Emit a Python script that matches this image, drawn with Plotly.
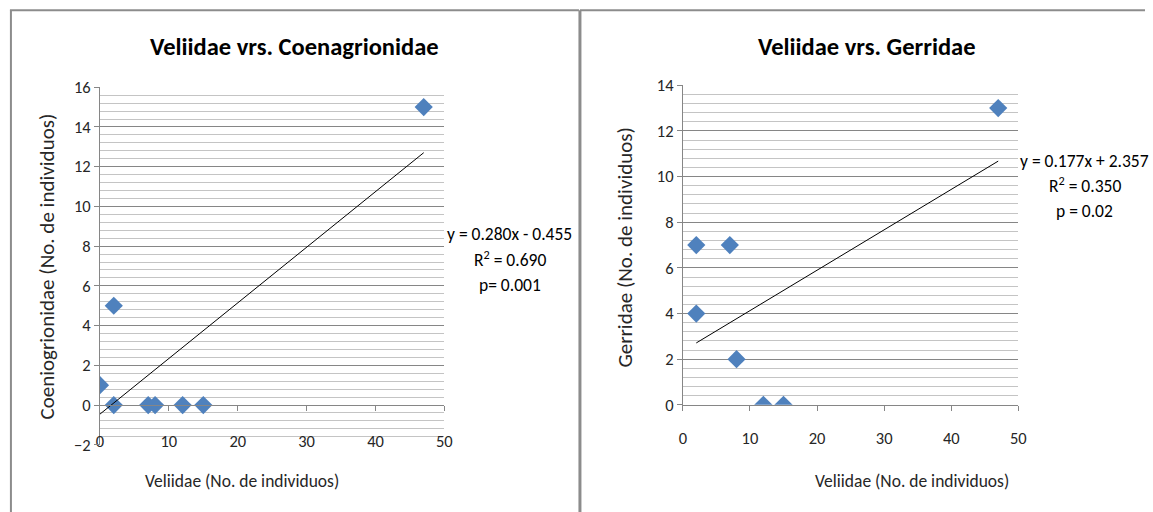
import plotly.graph_objects as go

# measured vertical mapping of the viewer: shown_y = K * (page_y + T)
K, T = 0.963, 10.0
W, H = 1153, 522

# ---- data ----
left_x = [0, 2, 2, 7, 8, 12, 15, 47]
left_y = [1, 5, 0, 0, 0, 0, 0, 15]
left_slope, left_icpt = 0.280, -0.455
left_fit_x = [0, 47]

right_x = [2, 7, 2, 8, 12, 15, 47]
right_y = [7, 7, 4, 2, 0, 0, 13]
right_slope, right_icpt = 0.177, 2.357
right_fit_x = [2, 47]

x_ticks = [0, 10, 20, 30, 40, 50]
left_y_ticks = [-2, 0, 2, 4, 6, 8, 10, 12, 14, 16]
right_y_ticks = [0, 2, 4, 6, 8, 10, 12, 14]

left_title = "Veliidae vrs. Coenagrionidae"
right_title = "Veliidae vrs. Gerridae"
x_title = "Veliidae (No. de individuos)"
left_y_title = "Coeniogrionidae (No. de individuos)"
right_y_title = "Gerridae (No. de individuos)"
left_eq = ["y = 0.280x - 0.455", "R<sup>2</sup> = 0.690", "p= 0.001"]
right_eq = ["y = 0.177x + 2.357", "R<sup>2</sup> = 0.350", "p = 0.02"]

FONT = "Carlito, Lato, 'Open Sans', sans-serif"
BLUE = "#4F81BD"
MAJ = "#868686"
MIN = "#c4c4c4"
BORDER = "#8c8c8c"


def px(x):
    return x / W


def py(y):
    return 1 - (y / K - T) / H


fig = go.Figure()

# left scatter + trendline
fig.add_trace(go.Scatter(x=left_x, y=left_y, mode="markers", xaxis="x", yaxis="y",
                         marker=dict(symbol="diamond", size=14, color=BLUE),
                         showlegend=False, hoverinfo="skip"))
fig.add_trace(go.Scatter(x=left_fit_x, y=[left_slope * v + left_icpt for v in left_fit_x],
                         mode="lines", xaxis="x3", yaxis="y",
                         line=dict(color="#000000", width=1), showlegend=False,
                         hoverinfo="skip"))
# right scatter + trendline
fig.add_trace(go.Scatter(x=right_x, y=right_y, mode="markers", xaxis="x2", yaxis="y2",
                         marker=dict(symbol="diamond", size=14, color=BLUE),
                         showlegend=False, hoverinfo="skip"))
fig.add_trace(go.Scatter(x=right_fit_x, y=[right_slope * v + right_icpt for v in right_fit_x],
                         mode="lines", xaxis="x2", yaxis="y2",
                         line=dict(color="#000000", width=1), showlegend=False,
                         hoverinfo="skip"))

tickfont = dict(family=FONT, size=16.5, color="#262626")

L_X0, L_X1, L_YT, L_YB, L_Y0 = 97, 445, 87, 445, 405
R_X0, R_X1, R_YT, R_YB = 686, 1025, 85, 405

yax_common = dict(showline=True, linecolor=MAJ, linewidth=1, ticks="outside",
                  ticklen=5, tickcolor=MAJ, showgrid=True, gridcolor=MAJ,
                  gridwidth=1, zeroline=False, tickfont=tickfont,
                  minor=dict(dtick=0.4, tick0=0, showgrid=True, gridcolor=MIN,
                             gridwidth=1, ticks=""))

fig.update_layout(
    width=W, height=H, margin=dict(l=0, r=0, t=0, b=0),
    paper_bgcolor="white", plot_bgcolor="white",
    font=dict(family=FONT, color="#000000"),
    xaxis=dict(domain=[px(L_X0), px(L_X1)], range=[0, 50], anchor="y",
               tickvals=x_ticks, showline=False, ticks="", showgrid=False,
               zeroline=False, tickfont=tickfont, ticklabelstandoff=-15),
    xaxis3=dict(overlaying="x", anchor="free", position=py(L_Y0), range=[0, 50],
                tickvals=x_ticks, showline=True, linecolor=MAJ, ticks="outside",
                ticklen=5, tickcolor=MAJ, showticklabels=False, showgrid=False,
                zeroline=False),
    yaxis=dict(domain=[py(L_YB), py(L_YT)], range=[-2, 16], anchor="x",
               tickvals=left_y_ticks, **yax_common),
    xaxis2=dict(domain=[px(R_X0), px(R_X1)], range=[0, 50], anchor="y2",
                tickvals=x_ticks, showline=True, linecolor=MAJ, ticks="outside",
                ticklen=5, tickcolor=MAJ, showgrid=False, zeroline=False,
                tickfont=tickfont, ticklabelstandoff=13),
    yaxis2=dict(domain=[py(R_YB), py(R_YT)], range=[0, 14], anchor="x2",
                tickvals=right_y_ticks, **yax_common),
)


def note(text, x, y, size, color="#000000", angle=0):
    return dict(text=text, x=px(x), y=py(y), xref="paper", yref="paper",
                xanchor="center", yanchor="middle", showarrow=False,
                textangle=angle, font=dict(family=FONT, size=size, color=color))


ann = [
    note("<b>" + left_title + "</b>", 294, 47, 24.5),
    note("<b>" + right_title + "</b>", 872, 47, 24.5),
    note(x_title, 241, 481, 17.5, "#262626"),
    note(x_title, 918, 481, 17.5, "#262626"),
    note(left_y_title, 43, 267, 21, "#262626", -90),
    note(right_y_title, 628, 247, 21, "#262626", -90),
]
for txt, yy in zip(left_eq, [234, 259, 285]):
    ann.append(note(txt, 511, yy, 17.5))
for txt, yy in zip(right_eq, [161, 185, 211]):
    ann.append(note(txt, 1092, yy, 17.5))
fig.update_layout(annotations=ann)

# chart borders
shapes = [
    dict(type="line", xref="paper", yref="paper", x0=px(6), x1=px(581), y0=py(10), y1=py(10),
         line=dict(color=BORDER, width=2)),
    dict(type="line", xref="paper", yref="paper", x0=px(7), x1=px(7), y0=py(10), y1=0,
         line=dict(color=BORDER, width=2)),
    dict(type="line", xref="paper", yref="paper", x0=px(582), x1=px(582), y0=py(10), y1=0,
         line=dict(color=BORDER, width=3)),
    dict(type="line", xref="paper", yref="paper", x0=px(582), x1=1, y0=py(10), y1=py(10),
         line=dict(color=BORDER, width=2)),
]
fig.update_layout(shapes=shapes)

fig.write_html("out.html", config={"displayModeBar": False},
               post_script="document.body.style.margin='0';"
                           "document.documentElement.style.overflow='hidden';"
                           "document.body.style.overflow='hidden';")
